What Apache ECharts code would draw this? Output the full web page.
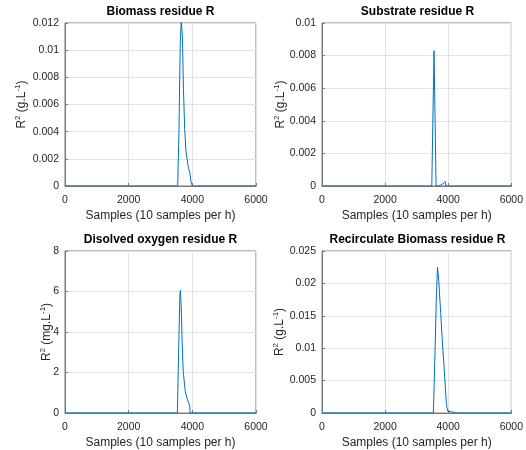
<!DOCTYPE html>
<html><head><meta charset="utf-8">
<script src="https://cdn.jsdelivr.net/npm/echarts@6/dist/echarts.min.js"></script>
<style>html,body{margin:0;padding:0;background:#fff}#c{width:526px;height:450px}</style>
</head><body><div id="c"></div>
<script>
// Chart titles and axis names
const titles = ["Biomass residue R", "Substrate residue R", "Disolved oxygen residue R", "Recirculate Biomass residue R"];
const yUnits = ["g.L", "g.L", "mg.L", "g.L"];
const xName = "Samples (10 samples per h)";
const xTicks = [0, 2000, 4000, 6000];
const yMax = [0.012, 0.01, 8, 0.025];
const yStep = [0.002, 0.002, 2, 0.005];

// Biomass residue
const biomassX = [0, 780, 820, 860, 3540, 3580, 3620, 3650, 3670, 3690, 3720, 3760, 3800, 3840, 3880, 3900, 3920, 3960, 4000, 4260, 4300, 4340, 6000];
const biomassY = [0, 0, 0.00003, 0, 0, 0.004, 0.0105, 0.0121, 0.0121, 0.011, 0.0072, 0.0042, 0.0026, 0.0019, 0.0013, 0.0013, 0.001, 0.0003, 0, 0, 0.00006, 0, 0];
// Substrate residue
const substrateX = [0, 780, 820, 860, 3480, 3550, 3615, 3680, 3760, 3840, 3890, 3905, 3925, 4300, 4340, 4380, 6000];
const substrateY = [0, 0, 0.00003, 0, 0, 0.0083, 0, 0, 0.00005, 0.00015, 0.00022, 0.00027, 0, 0, 0.00003, 0, 0];
// Dissolved oxygen residue
const oxygenX = [0, 850, 880, 910, 2420, 2450, 2480, 3530, 3580, 3610, 3625, 3645, 3680, 3716, 3780, 3840, 3886, 3920, 3930, 6000];
const oxygenY = [0, 0, 0.06, 0, 0, 0.05, 0, 0, 3.8, 5.9, 6.05, 5.5, 3.5, 2.0, 1.05, 0.7, 0.5, 0.35, 0, 0];
// Recirculated biomass residue
const recircX = [0, 3530, 3580, 3620, 3660, 3680, 3700, 3760, 3820, 3860, 3895, 3940, 3980, 4020, 4280, 4310, 4340, 6000];
const recircY = [0, 0, 0.009, 0.017, 0.0225, 0.0227, 0.0205, 0.0155, 0.0105, 0.0078, 0.0051, 0.0015, 0.0003, 0, 0, 0.00012, 0, 0];

const seriesX = [biomassX, substrateX, oxygenX, recircX];
const seriesY = [biomassY, substrateY, oxygenY, recircY];

const grids = [
  {left: 65, top: 23, width: 191, height: 163},
  {left: 322, top: 23, width: 191, height: 163},
  {left: 65, top: 251, width: 191, height: 163},
  {left: 322, top: 251, width: 191, height: 163}
];
const yNameGap = [35, 33, 10, 34];
const txtColor = '#262626';
const font = 'Liberation Sans, Arial, Helvetica, sans-serif';
const supStyle = {fontSize: 8, color: txtColor, fontFamily: font, verticalAlign: 'top', lineHeight: 16};
const baseStyle = {fontSize: 12, color: txtColor, fontFamily: font, verticalAlign: 'middle', lineHeight: 16};

const option = {
  animation: false,
  backgroundColor: '#fff',
  title: titles.map((t, i) => ({
    text: t,
    left: grids[i].left + grids[i].width / 2,
    top: grids[i].top - 17,
    padding: 0,
    textAlign: 'center',
    textStyle: {fontSize: 12, fontWeight: 'bold', color: '#000', fontFamily: font}
  })),
  grid: grids.map(g => Object.assign({show: true, borderColor: '#7a7a7a', borderWidth: 1, backgroundColor: '#fff'}, g)),
  xAxis: grids.map((g, i) => ({
    type: 'value', gridIndex: i, min: 0, max: 6000, interval: 2000,
    name: xName, nameLocation: 'middle', nameGap: 24, nameMoveOverlap: false,
    nameTextStyle: {fontSize: 12, color: txtColor, fontFamily: font},
    axisLine: {show: true, lineStyle: {color: '#7a7a7a', width: 1}},
    axisTick: {show: true, inside: true, length: 3, lineStyle: {color: '#7a7a7a'}},
    axisLabel: {fontSize: 10.5, color: txtColor, fontFamily: font, margin: 9, formatter: v => String(v)},
    splitLine: {show: true, lineStyle: {color: '#e3e3e3', width: 1}}
  })),
  yAxis: grids.map((g, i) => ({
    type: 'value', gridIndex: i, min: 0, max: yMax[i], interval: yStep[i],
    name: '{b|R}{s|2}{b| (' + yUnits[i] + '}{s|-1}{b|)}', nameLocation: 'middle', nameGap: yNameGap[i],
    nameMoveOverlap: false,
    nameTextStyle: {fontSize: 12, color: txtColor, fontFamily: font, rich: {b: baseStyle, s: supStyle}},
    axisLine: {show: true, lineStyle: {color: '#7a7a7a', width: 1}},
    axisTick: {show: true, inside: true, length: 3, lineStyle: {color: '#7a7a7a'}},
    axisLabel: {fontSize: 10.5, color: txtColor, fontFamily: font, margin: 6,
      formatter: v => String(parseFloat(v.toPrecision(6)))},
    splitLine: {show: true, lineStyle: {color: '#e3e3e3', width: 1}}
  })),
  series: seriesX.map((xs, i) => ({
    type: 'line', xAxisIndex: i, yAxisIndex: i,
    data: xs.map((x, k) => [x, seriesY[i][k]]),
    showSymbol: false, symbol: 'none', clip: true,
    lineStyle: {color: '#0072BD', width: 1}
  }))
};
echarts.init(document.getElementById('c'), null, {renderer: 'canvas'}).setOption(option);
</script></body></html>
